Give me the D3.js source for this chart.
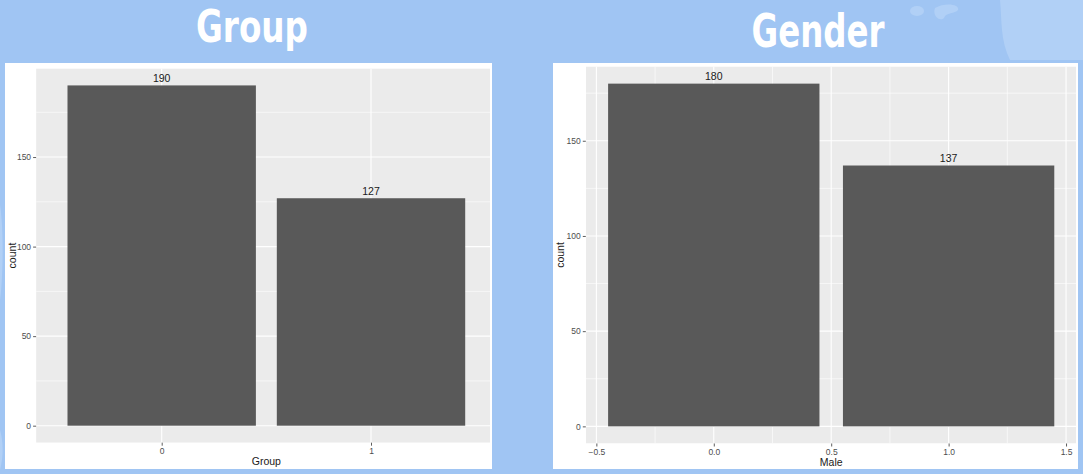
<!DOCTYPE html>
<html><head><meta charset="utf-8">
<script src="https://cdn.jsdelivr.net/npm/d3@7"></script>
<style>
html,body{margin:0;padding:0;background:#a0c5f3;}
svg{display:block;}
</style></head>
<body>
<svg id="c" width="1083" height="474"></svg>
<script>
// ---- data ----
const groupCategories = ["0", "1"];
const groupCounts = [190, 127];
const maleValues = [0, 1];
const maleCounts = [180, 137];
const countTicks = [0, 50, 100, 150];
const countMinor = [25, 75, 125, 175];
const maleTicks = [-0.5, 0, 0.5, 1, 1.5];
const maleMinor = [-0.25, 0.25, 0.75, 1.25];
const titles = ["Group", "Gender"];
const xTitles = ["Group", "Male"];

const svg = d3.select("#c");
const BG = "#a0c5f3", LIGHT = "#b1d0f6";
svg.append("rect").attr("width", 1083).attr("height", 474).attr("fill", BG);
// decorative lighter shapes
svg.append("path").attr("fill", LIGHT)
  .attr("d", "M1000,0 L1083,0 L1083,60 L1010,60 C1000,40 1002,20 1000,0 Z");
svg.append("ellipse").attr("cx", 917).attr("cy", 11).attr("rx", 7).attr("ry", 5).attr("fill", LIGHT);
svg.append("path").attr("fill", LIGHT)
  .attr("d", "M935,8 C945,2 960,4 958,10 C955,14 946,12 944,18 C940,22 932,16 935,8 Z");
svg.append("path").attr("fill", LIGHT)
  .attr("d", "M0,205 C4,230 3,280 0,300 Z M0,430 C3,440 4,455 0,470 Z");

// titles (condensed heavy look via horizontal scaling)
const titlePos = [{cx: 252, base: 41.5, w: 112, fs: 45}, {cx: 818, base: 46.5, w: 133, fs: 46}];
svg.selectAll("text.title").data(titles).enter().append("text")
  .attr("class", "title")
  .attr("x", 0).attr("y", 0)
  .attr("text-anchor", "middle")
  .attr("fill", "#ffffff")
  .style("font-family", "'DejaVu Sans',sans-serif")
  .style("font-weight", "bold")
  .style("font-size", (d, i) => titlePos[i].fs + "px")
  .text(d => d)
  .each(function (d, i) {
    const w = this.getComputedTextLength();
    const t = titlePos[i];
    d3.select(this).attr("transform", `translate(${t.cx},${t.base}) scale(${t.w / w},1)`);
  });

function panel(cfg) {
  const g = svg.append("g");
  g.append("rect").attr("x", cfg.box[0]).attr("y", cfg.box[1])
    .attr("width", cfg.box[2] - cfg.box[0]).attr("height", cfg.box[3] - cfg.box[1])
    .attr("fill", "#ffffff");
  const [x0, x1] = cfg.plotX, [y0, y1] = cfg.plotY;
  const clipId = "clip" + cfg.id;
  svg.append("clipPath").attr("id", clipId).append("rect")
    .attr("x", x0).attr("y", y1).attr("width", Math.min(x1, cfg.box[2] - 2) - x0).attr("height", y0 - y1);
  const p = g.append("g").attr("clip-path", `url(#${clipId})`);
  p.append("rect").attr("x", x0).attr("y", y1).attr("width", x1 - x0).attr("height", y0 - y1).attr("fill", "#ebebeb");
  const y = cfg.y;
  // grid
  p.selectAll("line.ymin").data(countMinor).enter().append("line")
    .attr("x1", x0).attr("x2", x1).attr("y1", d => y(d)).attr("y2", d => y(d))
    .attr("stroke", "#fff").attr("stroke-width", 0.6);
  p.selectAll("line.ymaj").data(countTicks).enter().append("line")
    .attr("x1", x0).attr("x2", x1).attr("y1", d => y(d)).attr("y2", d => y(d))
    .attr("stroke", "#fff").attr("stroke-width", 1.1);
  p.selectAll("line.xmin").data(cfg.xMinor).enter().append("line")
    .attr("y1", y0).attr("y2", y1).attr("x1", d => cfg.xpos(d)).attr("x2", d => cfg.xpos(d))
    .attr("stroke", "#fff").attr("stroke-width", 0.6);
  p.selectAll("line.xmaj").data(cfg.xMajor).enter().append("line")
    .attr("y1", y0).attr("y2", y1).attr("x1", d => cfg.xpos(d)).attr("x2", d => cfg.xpos(d))
    .attr("stroke", "#fff").attr("stroke-width", 1.1);
  // bars
  p.selectAll("rect.bar").data(cfg.data).enter().append("rect")
    .attr("x", d => cfg.xpos(d.k) - cfg.bw / 2).attr("width", cfg.bw)
    .attr("y", d => y(d.v)).attr("height", d => y(0) - y(d.v))
    .attr("fill", "#595959");
  // value labels
  g.selectAll("text.val").data(cfg.data).enter().append("text")
    .attr("x", d => cfg.xpos(d.k)).attr("y", d => y(d.v) - 3.5)
    .attr("text-anchor", "middle").attr("fill", "#1a1a1a")
    .style("font-family", "'Liberation Sans',Arial,sans-serif").style("font-size", "10.5px")
    .text(d => d.v);
  // axes
  const ya = g.append("g").attr("transform", `translate(${x0},0)`)
    .call(d3.axisLeft(y).tickValues(countTicks).tickSize(3).tickPadding(2).tickFormat(d3.format("d")));
  const xa = g.append("g").attr("transform", `translate(0,${y0})`)
    .call(d3.axisBottom(cfg.xScale).tickValues(cfg.xTickVals).tickSize(3).tickPadding(2).tickFormat(cfg.xFmt));
  [ya, xa].forEach(a => {
    a.select(".domain").remove();
    a.selectAll(".tick line").attr("stroke", "#333").attr("stroke-width", 0.8);
    a.selectAll(".tick text").attr("fill", "#4d4d4d")
      .style("font-family", "'Liberation Sans',Arial,sans-serif").style("font-size", "8.5px");
  });
  // axis titles
  g.append("text").attr("x", (x0 + x1) / 2 + cfg.xtShift).attr("y", cfg.xtY)
    .attr("text-anchor", "middle").attr("fill", "#1a1a1a")
    .style("font-family", "'Liberation Sans',Arial,sans-serif").style("font-size", "10.5px")
    .text(cfg.xTitle);
  g.append("text").attr("transform", `translate(${cfg.ytX},${(y0 + y1) / 2}) rotate(-90)`)
    .attr("text-anchor", "middle").attr("fill", "#1a1a1a")
    .style("font-family", "'Liberation Sans',Arial,sans-serif").style("font-size", "10.5px")
    .text("count");
}

// left panel: discrete x
const xl = d3.scalePoint().domain(groupCategories).range([36.1, 496.6]).padding(0.6);
const yl = d3.scaleLinear().domain([-9.5, 199.5]).range([442.7, 68.4]);
panel({
  id: "L", box: [5, 63, 492, 469], plotX: [36.1, 496.6], plotY: [442.7, 68.4], y: yl,
  xScale: xl, xTickVals: groupCategories, xFmt: d => d, xpos: k => xl(k),
  xMajor: groupCategories, xMinor: [], bw: xl.step() * 0.9,
  data: groupCategories.map((k, i) => ({k, v: groupCounts[i]})),
  xTitle: xTitles[0], xtY: 465, xtShift: 0, ytX: 16
});

// right panel: continuous x
const xr = d3.scaleLinear().domain([-0.545, 1.545]).range([585.8, 1076.6]);
const yr = d3.scaleLinear().domain([-9, 189]).range([443.5, 66.5]);
panel({
  id: "R", box: [553, 63, 1078, 469], plotX: [585.8, 1076.6], plotY: [443.5, 66.5], y: yr,
  xScale: xr, xTickVals: maleTicks, xFmt: d3.format(".1f"), xpos: v => xr(v),
  xMajor: maleTicks, xMinor: maleMinor, bw: xr(0.9) - xr(0),
  data: maleValues.map((k, i) => ({k, v: maleCounts[i]})),
  xTitle: xTitles[1], xtY: 466, xtShift: 0, ytX: 564
});
</script>
</body></html>
